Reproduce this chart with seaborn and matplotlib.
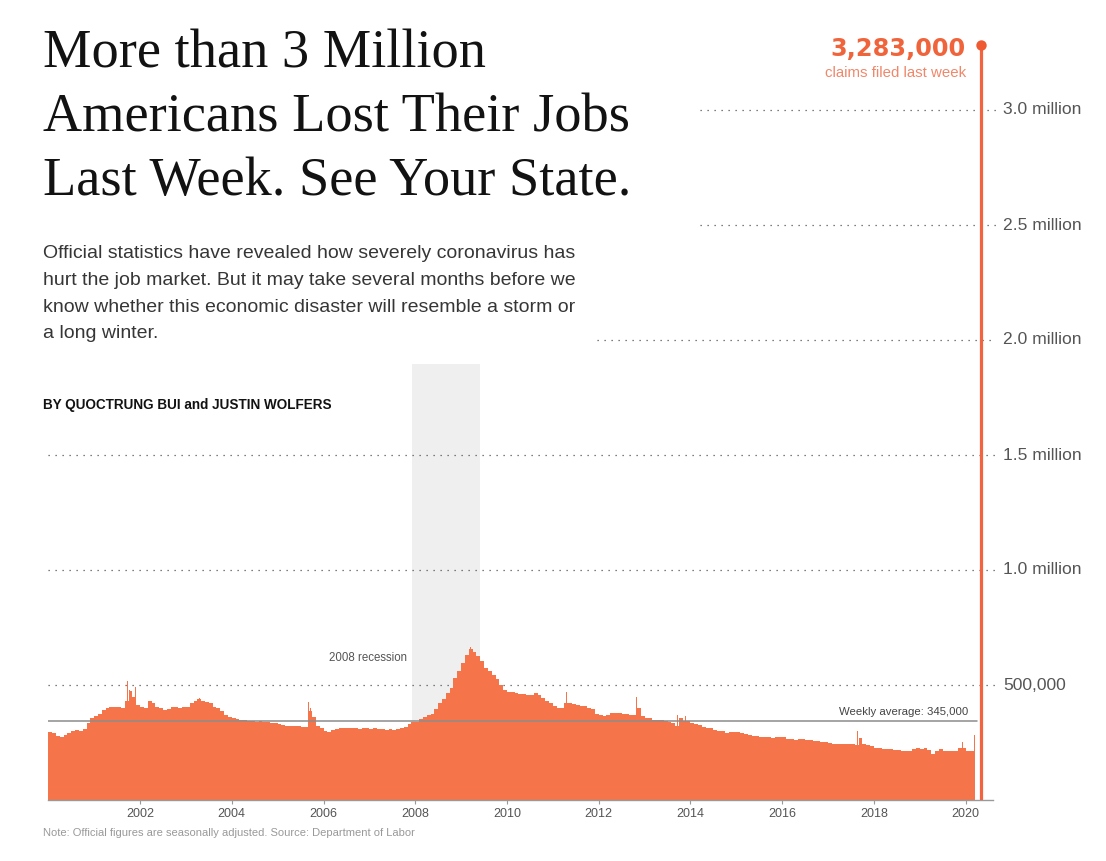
import numpy as np
import pandas as pd
import matplotlib
matplotlib.use("Agg")
import matplotlib.pyplot as plt
import seaborn as sns

# ---------------- data (thousands of initial claims, monthly) ----------------
claims_2000_2004 = [
    295, 290, 280, 275, 282, 290, 298, 305, 300, 310, 335, 355,   # 2000
    365, 375, 392, 400, 405, 405, 405, 400, 430, 475, 450, 415,   # 2001
    405, 400, 430, 420, 405, 398, 390, 395, 405, 405, 400, 405,   # 2002
    405, 420, 430, 440, 432, 428, 420, 405, 400, 385, 370, 362,   # 2003
    358, 352, 350, 348, 345, 345, 340, 342, 340, 338, 335, 335,   # 2004
]
claims_2005_2009 = [
    330, 325, 322, 322, 323, 320, 318, 318, 385, 360, 322, 315,   # 2005
    298, 295, 303, 310, 312, 312, 312, 315, 312, 310, 315, 312,   # 2006
    308, 315, 310, 308, 305, 308, 305, 310, 315, 318, 330, 340,   # 2007
    340, 352, 362, 370, 372, 395, 420, 440, 465, 485, 530, 560,   # 2008
    595, 630, 655, 645, 625, 605, 575, 560, 545, 525, 500, 480,   # 2009
]
claims_2010_2014 = [
    470, 470, 465, 462, 460, 458, 455, 465, 455, 445, 430, 420,   # 2010
    410, 400, 400, 420, 420, 418, 412, 410, 410, 400, 395, 375,   # 2011
    370, 365, 368, 378, 378, 380, 372, 372, 370, 368, 400, 365,   # 2012
    355, 358, 350, 350, 350, 345, 340, 335, 320, 355, 345, 345,   # 2013
    335, 332, 325, 318, 315, 312, 305, 302, 298, 290, 295, 295,   # 2014
]
claims_2015_2020 = [
    295, 293, 288, 282, 280, 278, 272, 274, 272, 268, 272, 275,   # 2015
    272, 266, 265, 262, 265, 264, 262, 262, 256, 258, 254, 252,   # 2016
    248, 245, 245, 244, 242, 242, 242, 240, 270, 245, 240, 236,   # 2017
    228, 224, 222, 220, 220, 218, 216, 215, 212, 215, 222, 225,   # 2018
    222, 225, 218, 200, 215, 220, 215, 215, 213, 215, 225, 228,   # 2019
    212, 212,                                                     # 2020 Jan-Feb
]
# single weeks that stand out above the monthly level (decimal year, thousands)
spike_weeks = [2001.72, 2001.77, 2001.90, 2002.24, 2003.30, 2005.68, 2005.72,
               2009.20, 2011.30, 2012.83, 2013.72, 2013.90, 2017.64, 2019.93,
               2020.177, 2020.196]
spike_values = [517, 478, 491, 478, 445, 426, 400,
                665, 470, 449, 370, 365, 300, 252,
                211, 282]

latest_week = 2020.333
latest_claims = 3283000
weekly_average = 345000
recession_start, recession_end = 2007.92, 2009.42
tick_years = [2002, 2004, 2006, 2008, 2010, 2012, 2014, 2016, 2018, 2020]
grid_values = [500000, 1000000, 1500000, 2000000, 2500000, 3000000]
grid_labels = ["500,000", "1.0 million", "1.5 million", "2.0 million", "2.5 million", "3.0 million"]
grid_starts = [2000, 2000, 2000, 2011.97, 2014.21, 2014.21]

# ---------------- build frames ----------------
monthly = np.array(claims_2000_2004 + claims_2005_2009 + claims_2010_2014 + claims_2015_2020) * 1000.0
n = len(monthly)
edges_m = 2000 + np.arange(n + 1) / 12.0
df_m = pd.DataFrame({"t": (edges_m[:-1] + edges_m[1:]) / 2, "claims": monthly})

wk = 1 / 52.0
sw = np.array(spike_weeks)
edges_w = np.unique(np.round(np.concatenate([sw - wk / 2, sw + wk / 2]), 6))
df_w = pd.DataFrame({"t": sw, "claims": np.array(spike_values) * 1000.0})

# ---------------- figure ----------------
sns.set_theme(style="white")
plt.rcParams["font.family"] = ["Liberation Sans", "DejaVu Sans"]

W, H = 1106, 861
fig = plt.figure(figsize=(W / 100, H / 100), dpi=100)
fig.patch.set_facecolor("white")

def fx(px):
    return px / W

def fy(py):
    return 1 - py / H

ax_left, ax_right, ax_top, ax_bottom = 48.3, 996, 20, 800
ax = fig.add_axes([fx(ax_left), fy(ax_bottom), (ax_right - ax_left) / W, (ax_bottom - ax_top) / H])
ax.set_facecolor("none")
px_per_year = 45.87
xmax = 2000 + (ax_right - ax_left) / px_per_year
ymax = (ax_bottom - ax_top) / 230.0 * 1e6

BAR = "#F6744A"
LINE = "#F26440"

# recession shading
ax.fill_between([recession_start, recession_end], 0, 1.896e6, color="#EFEFEF", lw=0, zorder=0)

# dotted gridlines
for v, s in zip(grid_values, grid_starts):
    ax.plot([s, xmax], [v, v], color="#555555", lw=0.9, ls=(0, (1, 4.6)), zorder=1)

# bars (weekly claims) through seaborn histplot with weights
sns.histplot(data=df_m, x="t", weights="claims", bins=list(edges_m), element="step", fill=True,
             color=BAR, alpha=1, linewidth=0, ax=ax, zorder=2)
sns.histplot(data=df_w, x="t", weights="claims", bins=list(edges_w), element="step", fill=True,
             color=BAR, alpha=1, linewidth=0, ax=ax, zorder=2)

# weekly average line
ax.plot([2000, 2020.25], [weekly_average, weekly_average], color="#8C8C8C", lw=1.1, zorder=3)

# latest week
ax.vlines(latest_week, 0, latest_claims, color=LINE, lw=2.3, zorder=4)
ax.plot([latest_week], [latest_claims], "o", color="#F05A32", ms=7.5, mec="none", zorder=5, clip_on=False)

ax.set_xlim(2000, xmax)
ax.set_ylim(0, ymax)

# axes styling
for s in ["left", "right", "top"]:
    ax.spines[s].set_visible(False)
ax.spines["bottom"].set_color("#999999")
ax.spines["bottom"].set_linewidth(1)
ax.spines["bottom"].set_bounds(2000, 2000 + (993 - ax_left) / px_per_year)
ax.set_yticks([])
ax.set_xticks(tick_years)
ax.set_xticklabels([str(y) for y in tick_years])
ax.tick_params(axis="x", length=3, width=0.8, color="#999999", pad=2.5, labelsize=9, labelcolor="#555555",
               bottom=True, direction="out")
ax.set_xlabel("")
ax.set_ylabel("")
ax.grid(False)

# right-hand value labels
label_x = 2000 + (1003 - ax_left) / px_per_year
for v, lab in zip(grid_values, grid_labels):
    ax.text(label_x, v, lab, ha="left", va="center", fontsize=12.6, color="#555555", clip_on=False)

ax.text(2000 + (407 - ax_left) / px_per_year, (800 - 658) / 230 * 1e6, "2008 recession",
        ha="right", va="center", fontsize=8.3, color="#555555")
ax.text(2000 + (968 - ax_left) / px_per_year, (800 - 715) / 230 * 1e6, "Weekly average: 345,000",
        ha="right", va="baseline", fontsize=8.2, color="#444444")

# ---------------- text blocks ----------------
title_lines = ["More than 3 Million", "Americans Lost Their Jobs", "Last Week. See Your State."]
for line, base in zip(title_lines, [68, 132, 195]):
    fig.text(fx(43), fy(base), line, ha="left", va="baseline", fontsize=39.2,
             family=["Liberation Serif", "DejaVu Serif"], color="#121212")

body_lines = ["Official statistics have revealed how severely coronavirus has",
              "hurt the job market. But it may take several months before we",
              "know whether this economic disaster will resemble a storm or",
              "a long winter."]
for line, base in zip(body_lines, [258, 285, 312, 338]):
    fig.text(fx(43), fy(base), line, ha="left", va="baseline", fontsize=14, color="#363636")

fig.text(fx(43), fy(409), "BY QUOCTRUNG BUI and JUSTIN WOLFERS", ha="left", va="baseline",
         fontsize=9.75, fontweight="bold", family=["Liberation Sans", "DejaVu Sans"], color="#121212")

fig.text(fx(966), fy(56.5), "3,283,000", ha="right", va="baseline", fontsize=17.3,
         fontweight="bold", family=["DejaVu Sans"], color="#F0643C")
fig.text(fx(966), fy(77), "claims filed last week", ha="right", va="baseline", fontsize=10.8,
         color="#F0876A")

fig.text(fx(43), fy(836), "Note: Official figures are seasonally adjusted. Source: Department of Labor",
         ha="left", va="baseline", fontsize=8, color="#999999")

fig.savefig("out.png", dpi=100, facecolor="white")
